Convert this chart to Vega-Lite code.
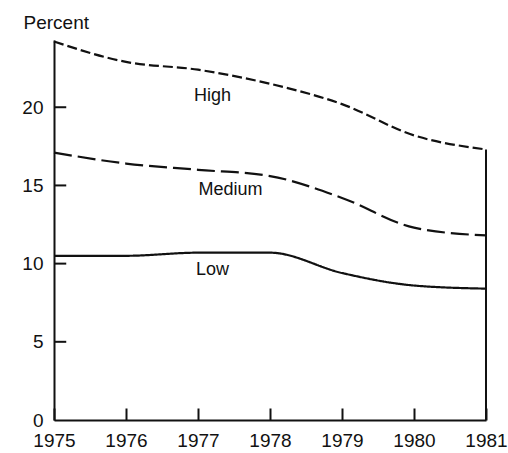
{
  "$schema": "https://vega.github.io/schema/vega-lite/v6.json",
  "autosize": "none",
  "width": 432,
  "height": 380,
  "padding": {"left": 54, "top": 40, "right": 22, "bottom": 33},
  "background": "white",
  "config": {
    "view": {"stroke": null},
    "font": "Liberation Sans",
    "axis": {"grid": false, "domainColor": "#111", "domainWidth": 2, "tickColor": "#111", "tickWidth": 2, "labelColor": "#111", "labelFont": "Liberation Sans", "labelFontSize": 19, "titleFont": "Liberation Sans", "titleFontWeight": "normal", "titleColor": "#111"}
  },
  "datasets": {
    "series": [
      {"year": 1975, "value": 24.2, "series": "High"},
      {"year": 1976, "value": 22.9, "series": "High"},
      {"year": 1977, "value": 22.4, "series": "High"},
      {"year": 1978, "value": 21.5, "series": "High"},
      {"year": 1979, "value": 20.2, "series": "High"},
      {"year": 1980, "value": 18.2, "series": "High"},
      {"year": 1981, "value": 17.3, "series": "High"},
      {"year": 1975, "value": 17.1, "series": "Medium"},
      {"year": 1976, "value": 16.4, "series": "Medium"},
      {"year": 1977, "value": 16.0, "series": "Medium"},
      {"year": 1978, "value": 15.6, "series": "Medium"},
      {"year": 1979, "value": 14.2, "series": "Medium"},
      {"year": 1980, "value": 12.3, "series": "Medium"},
      {"year": 1981, "value": 11.8, "series": "Medium"},
      {"year": 1975, "value": 10.5, "series": "Low"},
      {"year": 1976, "value": 10.5, "series": "Low"},
      {"year": 1977, "value": 10.7, "series": "Low"},
      {"year": 1978, "value": 10.7, "series": "Low"},
      {"year": 1979, "value": 9.4, "series": "Low"},
      {"year": 1980, "value": 8.6, "series": "Low"},
      {"year": 1981, "value": 8.4, "series": "Low"}
    ],
    "labels": [
      {"year": 1977.2, "value": 20.7, "text": "High"},
      {"year": 1977.45, "value": 14.7, "text": "Medium"},
      {"year": 1977.2, "value": 9.6, "text": "Low"}
    ],
    "border": [{"year": 1981, "value": 17.3, "base": 0}],
    "yticks": [
      {"year": 1975, "yearEnd": 1975.17, "value": 5},
      {"year": 1975, "yearEnd": 1975.17, "value": 10},
      {"year": 1975, "yearEnd": 1975.17, "value": 15},
      {"year": 1975, "yearEnd": 1975.17, "value": 20}
    ]
  },
  "layer": [
    {
      "data": {"name": "series"},
      "mark": {"type": "line", "interpolate": "monotone", "strokeWidth": 2.2, "color": "#111"},
      "encoding": {
        "x": {"field": "year", "type": "quantitative", "scale": {"domain": [1975, 1981], "nice": false, "zero": false},
          "axis": {"values": [1975, 1976, 1977, 1978, 1979, 1980, 1981], "format": "d", "tickSize": -12, "labelPadding": 23, "labelFlush": false, "title": null}},
        "y": {"field": "value", "type": "quantitative", "scale": {"domain": [0, 24.3], "nice": false},
          "axis": {"values": [0, 5, 10, 15, 20], "ticks": false, "labelPadding": 11, "labelFlush": false, "title": "Percent", "titleAngle": 0, "titleAlign": "left", "titleBaseline": "alphabetic", "titleX": -31, "titleY": -12, "titleFontSize": 19}},
        "strokeDash": {"field": "series", "type": "nominal", "scale": {"domain": ["High", "Medium", "Low"], "range": [[10, 4], [18, 6], [1, 0]]}, "legend": null}
      }
    },
    {
      "data": {"name": "yticks"},
      "mark": {"type": "rule", "strokeWidth": 2, "color": "#111"},
      "encoding": {
        "x": {"field": "year", "type": "quantitative"},
        "x2": {"field": "yearEnd"},
        "y": {"field": "value", "type": "quantitative"}
      }
    },
    {
      "data": {"name": "border"},
      "mark": {"type": "rule", "strokeWidth": 2, "color": "#111"},
      "encoding": {
        "x": {"field": "year", "type": "quantitative"},
        "y": {"field": "value", "type": "quantitative"},
        "y2": {"field": "base"}
      }
    },
    {
      "data": {"name": "labels"},
      "mark": {"type": "text", "fontSize": 18, "color": "#111", "align": "center", "baseline": "middle"},
      "encoding": {
        "x": {"field": "year", "type": "quantitative"},
        "y": {"field": "value", "type": "quantitative"},
        "text": {"field": "text"}
      }
    }
  ]
}
